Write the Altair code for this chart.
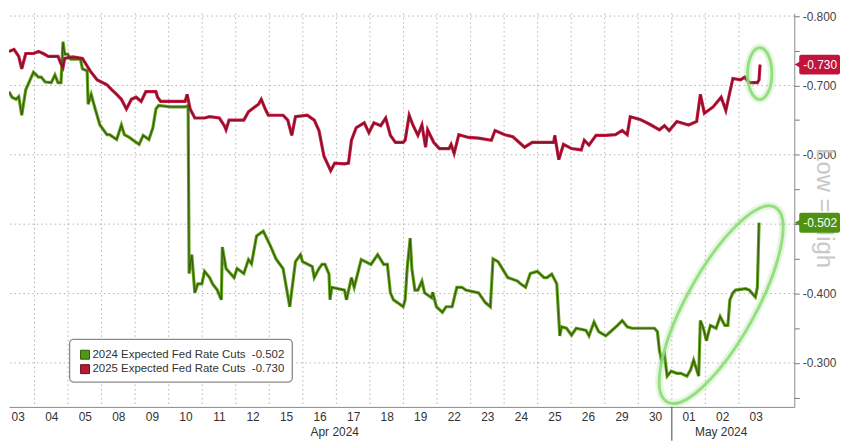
import altair as alt
import pandas as pd

# ---------------- data ----------------
# x = position in trading days (0 = start of the Apr 03 session), intraday as fraction
day_labels = ["03", "04", "05", "08", "09", "10", "11", "12", "15", "16", "17", "18",
              "19", "22", "23", "24", "25", "26", "29", "30", "01", "02", "03"]
month_labels = ["Apr 2024", "May 2024"]
month_label_pos = [9.95, 21.47]
month_boundary = [20.0]
day_boundaries = list(range(1, 23))
y_grid = [-0.8, -0.7, -0.6, -0.5, -0.4, -0.3]
y_ticks = [-0.8, -0.75, -0.7, -0.65, -0.6, -0.55, -0.5, -0.45, -0.4, -0.35, -0.3, -0.25]

series_names = ["2024 Expected Fed Rate Cuts", "2025 Expected Fed Rate Cuts"]
last_values = [-0.502, -0.730]

t_2025 = [0.24, 0.39, 0.53, 0.62, 0.74, 0.97, 1.12, 1.26, 1.41, 1.70,
          1.79, 1.85, 1.90, 2.14, 2.43, 2.57, 2.66, 2.87, 3.16, 3.30,
          3.45, 3.59, 3.74, 3.89, 4.03, 4.18, 4.32, 4.62, 4.67, 4.76,
          5.20, 5.49, 5.55, 5.64, 5.78, 6.07, 6.22, 6.51, 6.66, 6.71,
          6.80, 7.24, 7.38, 7.68, 7.76, 7.88, 7.97, 8.41, 8.55, 8.67,
          8.78, 9.13, 9.34, 9.48, 9.63, 9.83, 9.95, 10.24, 10.36, 10.45,
          10.59, 10.83, 10.97, 11.12, 11.32, 11.47, 11.61, 11.76, 11.99, 12.05,
          12.17, 12.28, 12.43, 12.55, 12.66, 12.72, 12.90, 13.07, 13.36, 13.42,
          13.51, 13.65, 13.94, 14.24, 14.62, 14.73, 15.02, 15.26, 15.61, 15.84,
          16.13, 16.48, 16.51, 16.63, 16.77, 17.01, 17.30, 17.39, 17.53, 17.74,
          18.03, 18.32, 18.52, 18.67, 18.76, 19.05, 19.34, 19.63, 19.78, 19.92,
          20.15, 20.50, 20.74, 20.85, 20.97, 21.23, 21.47, 21.61, 21.70, 21.82,
          22.05, 22.17, 22.31, 22.55, 22.60, 22.63]
v_2025 = [-0.749, -0.752, -0.742, -0.724, -0.746, -0.746, -0.749, -0.746, -0.742, -0.742,
          -0.731, -0.726, -0.739, -0.741, -0.739, -0.728, -0.721, -0.708, -0.701, -0.694,
          -0.687, -0.680, -0.666, -0.680, -0.683, -0.677, -0.691, -0.691, -0.683, -0.677,
          -0.677, -0.677, -0.687, -0.666, -0.653, -0.653, -0.655, -0.653, -0.642, -0.636,
          -0.650, -0.650, -0.662, -0.673, -0.680, -0.666, -0.657, -0.657, -0.650, -0.628,
          -0.655, -0.657, -0.650, -0.635, -0.598, -0.577, -0.588, -0.587, -0.588, -0.621,
          -0.639, -0.646, -0.632, -0.646, -0.642, -0.653, -0.628, -0.618, -0.618, -0.621,
          -0.657, -0.643, -0.628, -0.643, -0.611, -0.636, -0.618, -0.609, -0.609, -0.615,
          -0.602, -0.629, -0.625, -0.624, -0.621, -0.635, -0.629, -0.626, -0.611, -0.618,
          -0.618, -0.618, -0.628, -0.593, -0.615, -0.609, -0.607, -0.621, -0.614, -0.628,
          -0.628, -0.629, -0.635, -0.629, -0.655, -0.651, -0.644, -0.636, -0.642, -0.635,
          -0.648, -0.643, -0.648, -0.687, -0.660, -0.669, -0.683, -0.664, -0.684, -0.710,
          -0.708, -0.712, -0.704, -0.704, -0.708, -0.730]

t_2024 = [0.24, 0.33, 0.45, 0.53, 0.62, 0.74, 0.97, 1.12, 1.20, 1.32,
          1.50, 1.61, 1.70, 1.79, 1.85, 1.90, 1.99, 2.08, 2.37, 2.43,
          2.57, 2.60, 2.69, 2.81, 2.95, 3.16, 3.24, 3.45, 3.59, 3.68,
          3.83, 3.94, 4.12, 4.24, 4.41, 4.53, 4.62, 4.70, 5.05, 5.49,
          5.58, 5.61, 5.69, 5.78, 5.87, 5.99, 6.07, 6.22, 6.31, 6.45,
          6.57, 6.60, 6.71, 6.95, 7.04, 7.24, 7.38, 7.47, 7.62, 7.82,
          8.03, 8.20, 8.41, 8.61, 8.78, 8.93, 8.99, 9.28, 9.34, 9.48,
          9.57, 9.66, 9.78, 9.81, 9.86, 10.24, 10.30, 10.45, 10.53, 10.74,
          11.03, 11.23, 11.41, 11.52, 11.61, 11.70, 11.82, 11.99, 12.05, 12.11,
          12.20, 12.25, 12.34, 12.43, 12.55, 12.63, 12.84, 12.87, 12.98, 13.16,
          13.27, 13.45, 13.59, 13.74, 13.86, 14.24, 14.44, 14.59, 14.67, 14.82,
          15.11, 15.40, 15.49, 15.64, 15.78, 15.99, 16.19, 16.28, 16.42, 16.57,
          16.66, 16.71, 16.86, 17.01, 17.15, 17.44, 17.53, 17.68, 17.82, 18.03,
          18.17, 18.38, 18.52, 18.67, 18.81, 19.40, 19.48, 19.57, 19.63, 19.69,
          19.78, 19.86, 19.98, 20.15, 20.27, 20.45, 20.56, 20.65, 20.80, 20.85,
          20.94, 21.03, 21.15, 21.32, 21.44, 21.58, 21.67, 21.73, 21.82, 21.90,
          22.20, 22.31, 22.49, 22.55, 22.60]
v_2024 = [-0.691, -0.683, -0.680, -0.684, -0.657, -0.694, -0.719, -0.712, -0.712, -0.705,
          -0.704, -0.715, -0.704, -0.704, -0.763, -0.745, -0.745, -0.738, -0.738, -0.724,
          -0.721, -0.673, -0.687, -0.666, -0.643, -0.629, -0.629, -0.622, -0.643, -0.629,
          -0.625, -0.621, -0.615, -0.628, -0.622, -0.639, -0.666, -0.671, -0.669, -0.669,
          -0.671, -0.429, -0.456, -0.401, -0.414, -0.414, -0.432, -0.423, -0.414, -0.405,
          -0.391, -0.467, -0.436, -0.423, -0.436, -0.429, -0.449, -0.443, -0.483, -0.490,
          -0.469, -0.450, -0.436, -0.381, -0.446, -0.456, -0.446, -0.439, -0.423, -0.436,
          -0.442, -0.442, -0.428, -0.391, -0.409, -0.405, -0.391, -0.423, -0.409, -0.449,
          -0.442, -0.456, -0.442, -0.442, -0.401, -0.391, -0.387, -0.381, -0.391, -0.436,
          -0.480, -0.436, -0.405, -0.405, -0.418, -0.401, -0.394, -0.402, -0.381, -0.373,
          -0.381, -0.381, -0.409, -0.409, -0.405, -0.401, -0.387, -0.381, -0.450, -0.446,
          -0.423, -0.418, -0.414, -0.409, -0.429, -0.432, -0.423, -0.423, -0.428, -0.414,
          -0.339, -0.352, -0.350, -0.340, -0.350, -0.347, -0.339, -0.359, -0.345, -0.339,
          -0.345, -0.354, -0.361, -0.352, -0.350, -0.350, -0.350, -0.345, -0.318, -0.304,
          -0.312, -0.281, -0.288, -0.285, -0.285, -0.281, -0.290, -0.304, -0.281, -0.361,
          -0.350, -0.332, -0.354, -0.350, -0.367, -0.354, -0.354, -0.391, -0.401, -0.405,
          -0.407, -0.405, -0.395, -0.409, -0.502]

# highlight ellipses (annotation centres in data units)
ellipse_t = [22.62, 21.47]
ellipse_v = [-0.717, -0.384]

# ---------------- styling ----------------
W, H = 790, 396
bright = ["#62a51e", "#c81b42"]
dark = ["#3a5a0c", "#7c1027"]
tag_colors = ["#4f9212", "#c0143c"]
legend_fill = ["#4f9a12", "#b51a34"]
legend_edge = ["#2f5a08", "#6e0f20"]
FONT = "Liberation Sans"

labels = [f"{n}\u00a0\u00a0{v:.3f}" for n, v in zip(series_names, last_values)]

df24 = pd.DataFrame({"t": t_2024, "v": v_2024, "series": labels[0]})
df25 = pd.DataFrame({"t": t_2025, "v": v_2025, "series": labels[1]})
lines_df = pd.concat([df24, df25], ignore_index=True)

x_scale = alt.Scale(domain=[0.24, 23.65], nice=False, zero=False)
y_scale = alt.Scale(domain=[-0.804, -0.2366], reverse=True, nice=False, zero=False)

day_expr = "[" + ",".join(f"'{d}'" for d in day_labels) + "][floor(datum.value)]"
x_axis = alt.Axis(values=[i + 0.5 for i in range(len(day_labels))], labelExpr=day_expr,
                  ticks=False, grid=False, domainColor="#8a8a8a", labelPadding=5,
                  labelFontSize=12, labelFont=FONT, labelColor="#333333",
                  labelOverlap=False, title=None)
y_axis = alt.Axis(orient="right", values=y_ticks,
                  labelExpr="abs(datum.value*10 - round(datum.value*10)) < 0.01 ? '-' + format(-datum.value, '.3f') : ''",
                  grid=False, tickSize=5, tickColor="#777777", domainColor="#8a8a8a",
                  labelPadding=3, labelFontSize=12, labelFont=FONT, labelColor="#444444",
                  labelOverlap=False, title=None)


def X():
    return alt.X("t:Q", scale=x_scale, axis=x_axis)


def Y():
    return alt.Y("v:Q", scale=y_scale, axis=y_axis)


hgrid = alt.Chart(pd.DataFrame({"v": y_grid})).mark_rule(
    color="#b3b3b3", strokeDash=[1.5, 3], strokeWidth=1
).encode(y=Y())

vgrid = alt.Chart(pd.DataFrame({"t": day_boundaries})).mark_rule(
    color="#b3b3b3", strokeDash=[1.5, 3], strokeWidth=1
).encode(x=X())

glow = alt.Chart(lines_df).mark_line(strokeWidth=3.2, clip=True).encode(
    x=X(), y=Y(),
    color=alt.Color("series:N", scale=alt.Scale(domain=labels, range=bright), legend=None),
)

cores = []
for i, lab in enumerate(labels):
    cores.append(
        alt.Chart(lines_df).transform_filter(alt.datum.series == lab)
        .mark_line(strokeWidth=1.2, color=dark[i], clip=True)
        .encode(x=X(), y=Y())
    )


def ellipse_path(rx):
    k = 0.5523
    return (f"M 0 -1 C {k*rx:.3f} -1 {rx} {-k:.3f} {rx} 0 "
            f"C {rx} {k:.3f} {k*rx:.3f} 1 0 1 "
            f"C {-k*rx:.3f} 1 {-rx} {k:.3f} {-rx} 0 "
            f"C {-rx} {-k:.3f} {-k*rx:.3f} -1 0 -1 Z")


ell_specs = [(0.47, 2704, 0), (0.31, 50176, 29)]
ellipses = []
for i, (rx, size, ang) in enumerate(ell_specs):
    d = pd.DataFrame({"t": [ellipse_t[i]], "v": [ellipse_v[i]]})
    for sw, op in [(8, 0.22), (3, 0.9)]:
        ellipses.append(
            alt.Chart(d).mark_point(shape=ellipse_path(rx), size=size, angle=ang,
                                    filled=False, color="#8ddd78", strokeWidth=sw,
                                    opacity=op)
            .encode(x=X(), y=Y())
        )

one = pd.DataFrame({"txt": ["Low = High"]})
lowhigh = alt.Chart(one).mark_text(
    angle=90, fontSize=24, color="#c9c9c9", font=FONT, align="center", baseline="middle"
).encode(text="txt:N", x=alt.value(W + 30), y=alt.value(196))

tags = []
tag_df = pd.DataFrame({"v": last_values, "label": [f"{v:.3f}" for v in last_values],
                       "idx": [0, 1]})
for i in range(2):
    base = alt.Chart(tag_df).transform_filter(alt.datum.idx == i)
    tags.append(base.mark_rect(yOffset=-10, y2Offset=10, color=tag_colors[i], cornerRadius=2)
                .encode(x=alt.value(W + 5), x2=alt.value(W + 46), y=Y(), y2="v:Q"))
    tags.append(base.mark_point(shape="triangle-left", filled=True, size=70,
                                color=tag_colors[i], opacity=1)
                .encode(x=alt.value(W + 4), y=Y()))
    tags.append(base.mark_text(color="white", fontSize=12, font=FONT, align="center",
                               baseline="middle")
                .encode(x=alt.value(W + 26), y=Y(), text="label:N"))

# legend box (drawn by hand, Bloomberg style)
legend_layers = [
    alt.Chart(one).mark_rect(fill="white", stroke="#8a8a8a", strokeWidth=1.3,
                             cornerRadius=4)
    .encode(x=alt.value(61), x2=alt.value(285), y=alt.value(328), y2=alt.value(371))
]
legend_rows_y = [343.5, 358]
for i, lab in enumerate(labels):
    ly = legend_rows_y[i]
    legend_layers.append(
        alt.Chart(one).mark_rect(fill=legend_fill[i], stroke=legend_edge[i], strokeWidth=1)
        .encode(x=alt.value(72), x2=alt.value(81), y=alt.value(ly - 4.5), y2=alt.value(ly + 4.5))
    )
    legend_layers.append(
        alt.Chart(pd.DataFrame({"txt": [lab]})).mark_text(
            align="left", baseline="middle", fontSize=11.5, font=FONT, color="#333333")
        .encode(x=alt.value(84), y=alt.value(ly), text="txt:N")
    )

months = alt.Chart(pd.DataFrame({"t": month_label_pos, "label": month_labels})).mark_text(
    fontSize=12, font=FONT, color="#333333", baseline="middle"
).encode(x=X(), y=alt.value(H + 25), text="label:N")

divider = alt.Chart(pd.DataFrame({"t": month_boundary})).mark_rule(
    color="#444444", strokeWidth=1
).encode(x=X(), y=alt.value(H), y2=alt.value(H + 34))

chart = alt.layer(
    hgrid, vgrid, glow, *cores, *ellipses, lowhigh, *tags, *legend_layers, months, divider
).properties(
    width=W, height=H, padding={"left": 0, "top": 0, "right": 0, "bottom": 0},
    background="white"
).configure_view(stroke=None)

chart.save("out.html", embed_options={"renderer": "svg", "actions": False})
